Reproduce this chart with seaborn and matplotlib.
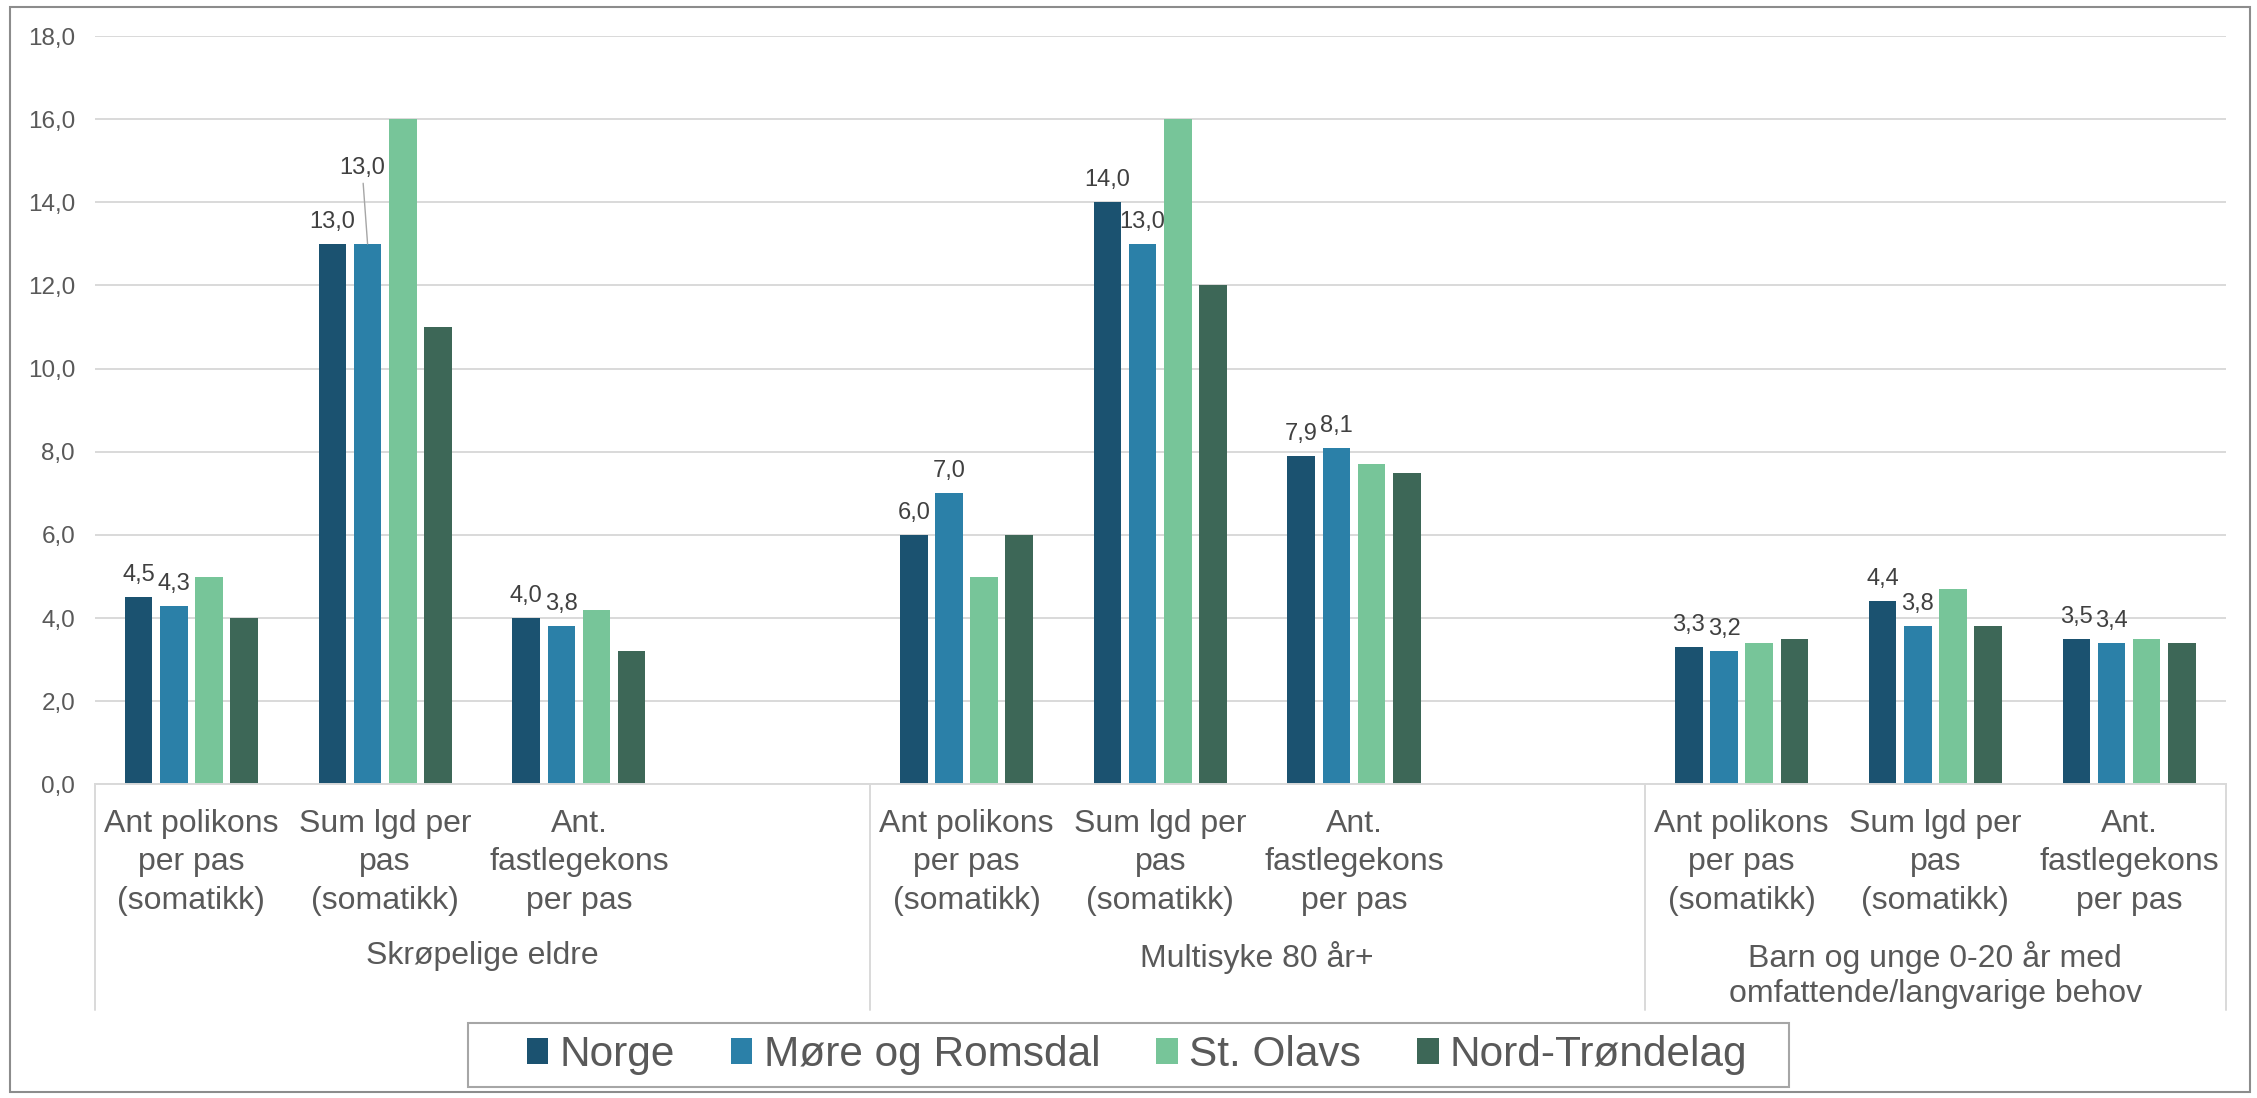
"""
Grouped bar chart: consultations and bed days per patient, three patient groups.
"""
import pandas as pd
import matplotlib.pyplot as plt
import matplotlib.transforms as mtransforms
from matplotlib.patches import Rectangle, Patch
import seaborn as sns

groups = ["Skrøpelige eldre", "Multisyke 80 år+",
          "Barn og unge 0-20 år med\nomfattende/langvarige behov"]
measures = ["Ant polikons\nper pas\n(somatikk)", "Sum lgd per\npas\n(somatikk)",
            "Ant.\nfastlegekons\nper pas"]
series = ["Norge", "Møre og Romsdal", "St. Olavs", "Nord-Trøndelag"]
colors = ["#1B5270", "#2B80A8", "#77C599", "#3D6757"]

# values per group x measure (3 x 3 = 9 per series)
norge = [4.5, 13.0, 4.0, 6.0, 14.0, 7.9, 3.3, 4.4, 3.5]
more_romsdal = [4.3, 13.0, 3.8, 7.0, 13.0, 8.1, 3.2, 3.8, 3.4]
st_olavs = [5.0, 16.0, 4.2, 5.0, 16.0, 7.7, 3.4, 4.7, 3.5]
nord_trondelag = [4.0, 11.0, 3.2, 6.0, 12.0, 7.5, 3.5, 3.8, 3.4]
labelled_series = ["Norge", "Møre og Romsdal"]

yticks = [0, 2, 4, 6, 8, 10, 12, 14, 16, 18]

TEXT = "#595959"
GRID = "#D9D9D9"

# Build slots: each group gets its measures, first two groups get an empty slot after
slot_keys = []
for gi in range(len(groups)):
    for mi in range(len(measures)):
        slot_keys.append(f"{gi}-{mi}")
    if gi < len(groups) - 1:
        slot_keys.append(f"{gi}-gap")

rows = []
for name, vals in zip(series, [norge, more_romsdal, st_olavs, nord_trondelag]):
    k = 0
    for gi in range(len(groups)):
        for mi in range(len(measures)):
            rows.append({"slot": f"{gi}-{mi}", "series": name, "value": vals[k]})
            k += 1
df = pd.DataFrame(rows)

sns.set_theme(style="white")
plt.rcParams["font.family"] = ["Liberation Sans", "DejaVu Sans"]

fig = plt.figure(figsize=(22.57, 10.98), dpi=100)
ax = fig.add_axes([0.04187, 0.28561, 0.9444, 0.6816])

sns.barplot(data=df, x="slot", y="value", hue="series", order=slot_keys,
            hue_order=series, palette=colors, width=0.726, gap=0.216,
            saturation=1, errorbar=None, legend=False, ax=ax, edgecolor="none")

ax.set_xlim(-0.5, len(slot_keys) - 0.5)
ax.set_ylim(0, 18)
ax.set_yticks(yticks)
ax.set_yticklabels([f"{t:.1f}".replace(".", ",") for t in yticks])
ax.tick_params(axis="y", length=0, pad=14, labelsize=17.5, labelcolor=TEXT)
ax.tick_params(axis="x", length=0, labelbottom=False)
ax.set_xlabel("")
ax.set_ylabel("")
ax.grid(axis="y", color=GRID, lw=1.4)
ax.set_axisbelow(True)
for side in ["left", "right", "top"]:
    ax.spines[side].set_visible(False)
ax.spines["bottom"].set_color(GRID)
ax.spines["bottom"].set_linewidth(1.4)

# Data labels for first two series
for name, container in zip(series, ax.containers):
    if name not in labelled_series:
        continue
    for bar in container:
        h = bar.get_height()
        xc = bar.get_x() + bar.get_width() / 2
        slot = slot_keys[int(round(xc))]
        txt = f"{h:.1f}".replace(".", ",")
        if name == "Møre og Romsdal" and slot == "0-1":
            # pushed up with a leader line
            ax.annotate(txt, xy=(xc, h), xytext=(-4, 47), textcoords="offset points",
                        ha="center", va="bottom", fontsize=17, color="#404040",
                        arrowprops=dict(arrowstyle="-", color="#A6A6A6", lw=1,
                                        shrinkA=1, shrinkB=0))
        else:
            ax.annotate(txt, xy=(xc, h), xytext=(0, 8), textcoords="offset points",
                        ha="center", va="bottom", fontsize=17, color="#404040")

# Multi-level category axis
trans = mtransforms.blended_transform_factory(ax.transData, ax.transAxes)
for i, key in enumerate(slot_keys):
    gi, mi = key.split("-")
    if mi == "gap":
        continue
    ax.annotate(measures[int(mi)], xy=(i, 0), xycoords=trans, xytext=(0, -18),
                textcoords="offset points", ha="center", va="top", fontsize=23,
                color=TEXT, linespacing=1.35, annotation_clip=False)

group_spans = []
start = 0
for gi in range(len(groups)):
    n = sum(1 for k in slot_keys if k.startswith(f"{gi}-"))
    group_spans.append((start - 0.5, start + n - 0.5))
    start += n

for (x0, x1), g in zip(group_spans, groups):
    ax.annotate(g, xy=((x0 + x1) / 2, 0), xycoords=trans, xytext=(0, -113),
                textcoords="offset points", ha="center", va="top", fontsize=23,
                color=TEXT, linespacing=1.2, annotation_clip=False)

seps = [group_spans[0][0]] + [s[1] for s in group_spans]
for x in seps:
    ax.plot([x, x], [0, -0.301], transform=trans, color=GRID, lw=1.4, clip_on=False)

# Legend with a separate frame
handles = [Patch(facecolor=c, edgecolor="none") for c in colors]
fig.legend(handles, series, ncol=4, loc="center", bbox_to_anchor=(0.5038, 1 - 1055 / 1098),
           frameon=False, fontsize=30.5, handlelength=0.5, handleheight=0.55,
           handletextpad=0.27, columnspacing=1.33, labelcolor=TEXT)
fig.patches.append(Rectangle((468 / 2257, 1 - 1087 / 1098), 1321 / 2257, 64 / 1098,
                             transform=fig.transFigure, fill=False,
                             edgecolor="#A6A6A6", lw=1.5))

# Outer chart border
fig.patches.append(Rectangle((10 / 2257, 1 - 1092 / 1098), 2240 / 2257, 1085 / 1098,
                             transform=fig.transFigure, fill=False,
                             edgecolor="#8C8C8C", lw=1.5))

fig.savefig("out.png", dpi=100, facecolor="white")
